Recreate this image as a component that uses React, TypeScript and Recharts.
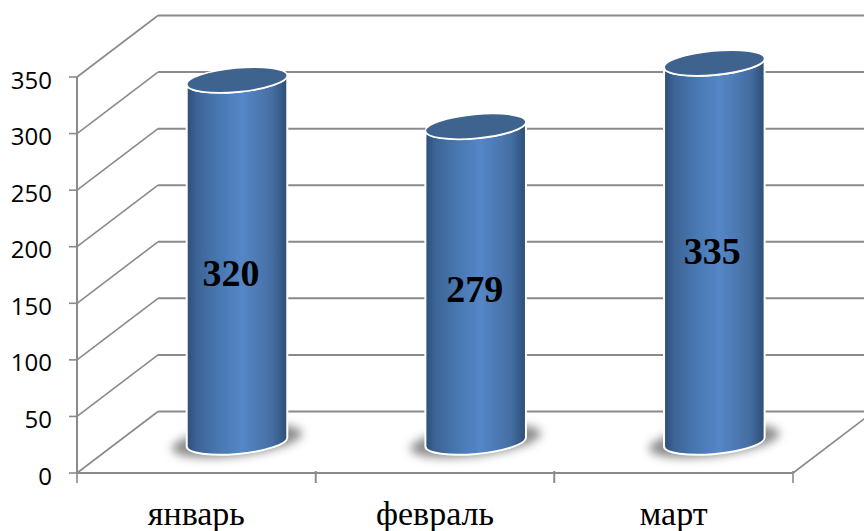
import { Bar, BarChart, CartesianGrid, LabelList, XAxis, YAxis } from 'recharts';

const months = ['январь', 'февраль', 'март'];
const visits = [320, 279, 335];
const yTicks = [0, 50, 100, 150, 200, 250, 300, 350];

// hand-placed label offsets from the middle of each cylinder
const labelNudgeX = [-6, -1, -2];
const labelNudgeY = [12, 5, -1];

const data = months.map((month, i) => ({ month, value: visits[i] }));

const WIDTH = 864;
const HEIGHT = 531;
// how far the back wall sits from the front plane
const DEPTH_X = 81;
const DEPTH_Y = -61.5;
// cylinders stand half way into the floor
const BAR_DX = DEPTH_X / 2;
const BAR_DY = -31;
const TILT = -5.3;
const RY = 12;
const GRID = '#8a8a8a';

function DepthGridLine({ x1, y1, x2 }: any) {
  const backX = x1 + DEPTH_X;
  const backY = y1 + DEPTH_Y;
  return (
    <g>
      <line x1={x1} y1={y1} x2={backX} y2={backY} stroke={GRID} strokeWidth={1.6} />
      <line x1={backX} y1={backY} x2={WIDTH} y2={backY} stroke={GRID} strokeWidth={2} />
      {y1 > 450 && (
        <line x1={x2} y1={y1} x2={WIDTH + 10} y2={y1 + ((WIDTH + 10 - x2) * DEPTH_Y) / DEPTH_X} stroke={GRID} strokeWidth={1.6} />
      )}
    </g>
  );
}

function YTick({ x, y, payload }: any) {
  return (
    <text x={x} y={y + 2} textAnchor="end" dominantBaseline="central" fontFamily="'Open Sans'" fontSize={24} fill="#000">
      {payload.value}
    </text>
  );
}

// month name in the middle of its band, tick marks on the band edges
function MonthTick({ x, y, payload, width, visibleTicksCount }: any) {
  const band = width / visibleTicksCount;
  const left = x - band / 2;
  const right = x + band / 2;
  return (
    <g>
      <line x1={left} y1={y - 12} x2={left} y2={y} stroke={GRID} strokeWidth={1.6} />
      <line x1={right} y1={y - 12} x2={right} y2={y} stroke={GRID} strokeWidth={1.6} />
      <text x={x} y={y + 42} textAnchor="middle" fontFamily="'Liberation Serif'" fontSize={34} fill="#000">
        {payload.value}
      </text>
    </g>
  );
}

function Cylinder({ x, y, width, height }: any) {
  const rx = width / 2;
  const cx = x + rx + BAR_DX;
  const top = y + BAR_DY;
  const bottom = y + height + BAR_DY;
  const rad = (TILT * Math.PI) / 180;
  const ex = rx * Math.cos(rad);
  const ey = rx * Math.sin(rad);
  const body = [
    `M${cx - ex} ${top - ey}`,
    `L${cx - ex} ${bottom - ey}`,
    `A${rx} ${RY} ${TILT} 0 0 ${cx + ex} ${bottom + ey}`,
    `L${cx + ex} ${top + ey}`,
    `A${rx} ${RY} ${TILT} 0 1 ${cx - ex} ${top - ey}`,
    'Z',
  ].join(' ');
  return (
    <g>
      <ellipse
        cx={cx}
        cy={bottom - 1}
        rx={rx + 15}
        ry={RY + 3}
        fill="#666"
        opacity={0.75}
        filter="url(#baseShadow)"
        transform={`rotate(-7 ${cx} ${bottom - 1})`}
      />
      <path d={body} fill="url(#cylinderSide)" stroke="#fff" strokeWidth={2} />
      <ellipse
        cx={cx}
        cy={top}
        rx={rx}
        ry={RY}
        fill="#3e638f"
        stroke="#fff"
        strokeWidth={1.6}
        transform={`rotate(${TILT} ${cx} ${top})`}
      />
    </g>
  );
}

function ValueLabel({ x, y, width, height, value, index }: any) {
  return (
    <text
      x={x + width / 2 + BAR_DX + labelNudgeX[index]}
      y={y + height / 2 + BAR_DY + labelNudgeY[index]}
      textAnchor="middle"
      dominantBaseline="central"
      fontFamily="'Liberation Serif'"
      fontWeight="bold"
      fontSize={38}
      fill="#000"
    >
      {value}
    </text>
  );
}

export default function App() {
  return (
    <div style={{ position: 'absolute', left: 0, top: 0, width: WIDTH, height: HEIGHT, background: '#fff' }}>
      <BarChart
        width={WIDTH}
        height={HEIGHT}
        data={data}
        barSize={101}
        margin={{ top: 77, right: 71, bottom: 0, left: 0 }}
      >
        <defs>
          <linearGradient id="cylinderSide" x1="0" y1="0" x2="1" y2="0">
            <stop offset="0%" stopColor="#2c4e7a" />
            <stop offset="10%" stopColor="#3d6495" />
            <stop offset="35%" stopColor="#4a7ab5" />
            <stop offset="55%" stopColor="#5586c6" />
            <stop offset="85%" stopColor="#456fa3" />
            <stop offset="100%" stopColor="#2e4c74" />
          </linearGradient>
          <filter id="baseShadow" x="-30%" y="-80%" width="160%" height="260%">
            <feGaussianBlur stdDeviation="5" />
          </filter>
        </defs>
        <CartesianGrid vertical={false} syncWithTicks horizontal={(props: any) => <DepthGridLine key={props.key} {...props} />} />
        <XAxis
          dataKey="month"
          height={58}
          tickSize={10}
          tickMargin={0}
          axisLine={{ stroke: GRID, strokeWidth: 2 }}
          tickLine={false}
          tick={<MonthTick />}
          interval={0}
        />
        <YAxis
          width={77}
          domain={[0, 350]}
          ticks={yTicks}
          tickSize={8}
          tickMargin={17}
          axisLine={{ stroke: GRID, strokeWidth: 2 }}
          tickLine={{ stroke: GRID, strokeWidth: 1.6 }}
          tick={<YTick />}
        />
        <Bar dataKey="value" isAnimationActive={false} shape={<Cylinder />}>
          <LabelList dataKey="value" content={<ValueLabel />} />
        </Bar>
      </BarChart>
    </div>
  );
}
